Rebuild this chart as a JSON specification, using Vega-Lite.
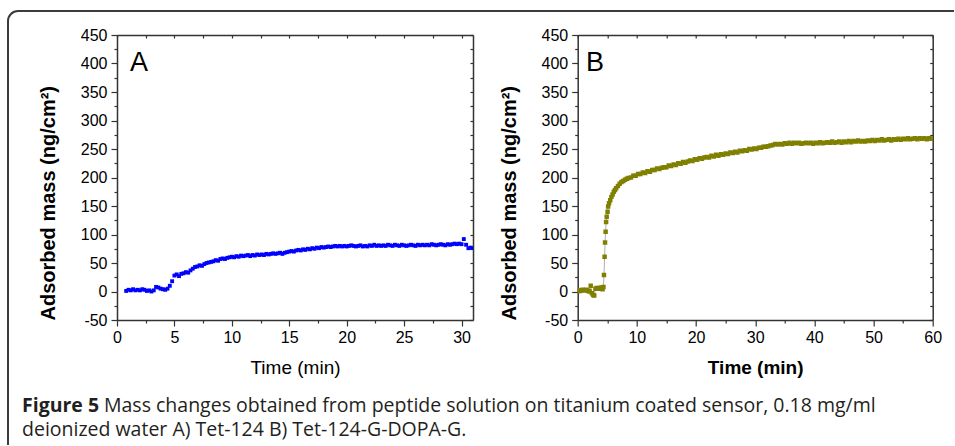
{
  "$schema": "https://vega.github.io/schema/vega-lite/v6.json",
  "background": "white",
  "padding": {"left": 7, "top": 10, "right": 0, "bottom": 0},
  "bounds": "flush",
  "spacing": 0,
  "datasets": {
    "a": [
      {"t":0.8,"m":1},{"t":1.0,"m":3},{"t":1.2,"m":2},{"t":1.4,"m":4},{"t":1.6,"m":2},{"t":1.8,"m":3},{"t":2.0,"m":2},{"t":2.2,"m":4},{"t":2.4,"m":3},{"t":2.6,"m":1},{"t":2.8,"m":2},{"t":3.0,"m":0},{"t":3.2,"m":2},{"t":3.4,"m":8},{"t":3.6,"m":7},{"t":3.8,"m":5},{"t":4.0,"m":4},{"t":4.2,"m":3},{"t":4.4,"m":5},{"t":4.6,"m":10},{"t":4.8,"m":18},
      {"t":5.0,"m":28},{"t":5.2,"m":30},{"t":5.4,"m":27},{"t":5.6,"m":31},{"t":5.8,"m":32},{"t":6.0,"m":34},{"t":6.2,"m":33},{"t":6.4,"m":37},{"t":6.6,"m":40},{"t":6.8,"m":43},{"t":7.0,"m":44},{"t":7.2,"m":46},{"t":7.4,"m":45},{"t":7.6,"m":48},{"t":7.8,"m":50},{"t":8.0,"m":51},{"t":8.2,"m":52},{"t":8.4,"m":53},{"t":8.6,"m":55},{"t":8.8,"m":54},{"t":9.0,"m":57},{"t":9.2,"m":58},{"t":9.4,"m":57},{"t":9.6,"m":59},{"t":9.8,"m":60},
      {"t":10.0,"m":61},{"t":10.2,"m":60},{"t":10.4,"m":62},{"t":10.6,"m":61},{"t":10.8,"m":63},{"t":11.0,"m":62},{"t":11.2,"m":63},{"t":11.4,"m":64},{"t":11.6,"m":62},{"t":11.8,"m":64},{"t":12.0,"m":63},{"t":12.2,"m":65},{"t":12.4,"m":64},{"t":12.6,"m":65},{"t":12.8,"m":64},{"t":13.0,"m":66},{"t":13.2,"m":65},{"t":13.4,"m":66},{"t":13.6,"m":67},{"t":13.8,"m":66},{"t":14.0,"m":67},{"t":14.2,"m":68},{"t":14.4,"m":66},{"t":14.6,"m":68},{"t":14.8,"m":69},
      {"t":15.0,"m":70},{"t":15.2,"m":71},{"t":15.4,"m":70},{"t":15.6,"m":72},{"t":15.8,"m":73},{"t":16.0,"m":72},{"t":16.2,"m":74},{"t":16.4,"m":73},{"t":16.6,"m":75},{"t":16.8,"m":74},{"t":17.0,"m":76},{"t":17.2,"m":75},{"t":17.4,"m":77},{"t":17.6,"m":76},{"t":17.8,"m":78},{"t":18.0,"m":77},{"t":18.2,"m":78},{"t":18.4,"m":79},{"t":18.6,"m":78},{"t":18.8,"m":79},{"t":19.0,"m":80},{"t":19.2,"m":79},{"t":19.4,"m":80},{"t":19.6,"m":79},{"t":19.8,"m":80},
      {"t":20.0,"m":79},{"t":20.2,"m":80},{"t":20.4,"m":81},{"t":20.6,"m":80},{"t":20.8,"m":79},{"t":21.0,"m":80},{"t":21.2,"m":81},{"t":21.4,"m":79},{"t":21.6,"m":80},{"t":21.8,"m":79},{"t":22.0,"m":81},{"t":22.2,"m":80},{"t":22.4,"m":82},{"t":22.6,"m":80},{"t":22.8,"m":81},{"t":23.0,"m":80},{"t":23.2,"m":81},{"t":23.4,"m":80},{"t":23.6,"m":82},{"t":23.8,"m":81},{"t":24.0,"m":80},{"t":24.2,"m":82},{"t":24.4,"m":81},{"t":24.6,"m":80},{"t":24.8,"m":82},
      {"t":25.0,"m":81},{"t":25.2,"m":80},{"t":25.4,"m":81},{"t":25.6,"m":82},{"t":25.8,"m":81},{"t":26.0,"m":80},{"t":26.2,"m":82},{"t":26.4,"m":81},{"t":26.6,"m":82},{"t":26.8,"m":81},{"t":27.0,"m":82},{"t":27.2,"m":81},{"t":27.4,"m":83},{"t":27.6,"m":82},{"t":27.8,"m":81},{"t":28.0,"m":82},{"t":28.2,"m":83},{"t":28.4,"m":82},{"t":28.6,"m":81},{"t":28.8,"m":83},{"t":29.0,"m":82},{"t":29.2,"m":83},{"t":29.4,"m":84},{"t":29.6,"m":83},{"t":29.8,"m":84},
      {"t":30.0,"m":83},{"t":30.2,"m":92},{"t":30.4,"m":82},{"t":30.6,"m":76},{"t":30.8,"m":77},{"t":31.0,"m":76}
    ],
    "b": [
      {"t":0,"m":1},{"t":0.2,"m":2},{"t":0.4,"m":1},{"t":0.6,"m":2},{"t":0.8,"m":3},{"t":1.0,"m":2},{"t":1.2,"m":2},{"t":1.4,"m":3},{"t":1.6,"m":2},{"t":1.8,"m":1},{"t":2.0,"m":0},{"t":2.2,"m":10},{"t":2.4,"m":-3},{"t":2.6,"m":-6},{"t":2.8,"m":-7},{"t":3.0,"m":5},{"t":3.2,"m":6},{"t":3.4,"m":5},{"t":3.6,"m":6},{"t":3.8,"m":5},{"t":4.0,"m":7},{"t":4.2,"m":4},{"t":4.35,"m":8},
      {"t":4.44,"m":29},{"t":4.55,"m":61},{"t":4.62,"m":86},{"t":4.72,"m":105},{"t":4.8,"m":122},{"t":4.9,"m":131},{"t":5.05,"m":140},{"t":5.15,"m":149},{"t":5.3,"m":155},{"t":5.5,"m":160},{"t":5.7,"m":166},{"t":5.9,"m":170},{"t":6.1,"m":175},{"t":6.3,"m":178},{"t":6.5,"m":181},{"t":6.8,"m":185},{"t":7.1,"m":189},{"t":7.4,"m":192},{"t":7.7,"m":194},{"t":8.0,"m":196},{"t":8.3,"m":198},
      {"t":8.6,"m":199},{"t":9.0,"m":200},{"t":9.4,"m":203},{"t":9.8,"m":203},{"t":10.2,"m":206},{"t":10.6,"m":206},{"t":11.0,"m":209},{"t":11.4,"m":208},{"t":11.8,"m":211},{"t":12.2,"m":210},{"t":12.6,"m":213},{"t":13.0,"m":213},{"t":13.4,"m":216},{"t":13.8,"m":215},{"t":14.2,"m":217},{"t":14.6,"m":218},{"t":15.0,"m":218},{"t":15.4,"m":221},{"t":15.8,"m":220},{"t":16.2,"m":223},{"t":16.6,"m":222},{"t":17.0,"m":225},{"t":17.4,"m":224},{"t":17.8,"m":227},{"t":18.2,"m":226},{"t":18.6,"m":228},{"t":19.0,"m":230},{"t":19.4,"m":229},{"t":19.8,"m":232},
      {"t":20.2,"m":231},{"t":20.6,"m":234},{"t":21.0,"m":233},{"t":21.4,"m":235},{"t":21.8,"m":236},{"t":22.2,"m":235},{"t":22.6,"m":238},{"t":23.0,"m":237},{"t":23.4,"m":240},{"t":23.8,"m":238},{"t":24.2,"m":241},{"t":24.6,"m":240},{"t":25.0,"m":242},{"t":25.4,"m":241},{"t":25.8,"m":244},{"t":26.2,"m":243},{"t":26.6,"m":245},{"t":27.0,"m":244},{"t":27.4,"m":247},{"t":27.8,"m":246},{"t":28.2,"m":248},{"t":28.6,"m":247},{"t":29.0,"m":250},{"t":29.4,"m":249},{"t":29.8,"m":251},
      {"t":30.2,"m":250},{"t":30.6,"m":252},{"t":31.0,"m":252},{"t":31.4,"m":254},{"t":31.8,"m":254},{"t":32.2,"m":255},{"t":32.6,"m":256},{"t":33.0,"m":257},{"t":33.4,"m":259},{"t":33.8,"m":258},{"t":34.2,"m":259},{"t":34.6,"m":258},{"t":35.0,"m":260},{"t":35.4,"m":259},{"t":35.8,"m":261},{"t":36.2,"m":259},{"t":36.6,"m":261},{"t":37.0,"m":260},{"t":37.4,"m":261},{"t":37.8,"m":259},{"t":38.2,"m":260},{"t":38.6,"m":261},{"t":39.0,"m":260},{"t":39.4,"m":261},{"t":39.8,"m":259},
      {"t":40.2,"m":261},{"t":40.6,"m":260},{"t":41.0,"m":262},{"t":41.4,"m":260},{"t":41.8,"m":261},{"t":42.2,"m":262},{"t":42.6,"m":261},{"t":43.0,"m":263},{"t":43.4,"m":261},{"t":43.8,"m":262},{"t":44.2,"m":263},{"t":44.6,"m":261},{"t":45.0,"m":263},{"t":45.4,"m":262},{"t":45.8,"m":264},{"t":46.2,"m":262},{"t":46.6,"m":264},{"t":47.0,"m":263},{"t":47.4,"m":265},{"t":47.8,"m":263},{"t":48.2,"m":264},{"t":48.6,"m":263},{"t":49.0,"m":265},{"t":49.4,"m":264},{"t":49.8,"m":266},
      {"t":50.2,"m":264},{"t":50.6,"m":266},{"t":51.0,"m":265},{"t":51.4,"m":267},{"t":51.8,"m":265},{"t":52.2,"m":266},{"t":52.6,"m":267},{"t":53.0,"m":265},{"t":53.4,"m":267},{"t":53.8,"m":266},{"t":54.2,"m":268},{"t":54.6,"m":266},{"t":55.0,"m":268},{"t":55.4,"m":267},{"t":55.8,"m":269},{"t":56.2,"m":267},{"t":56.6,"m":268},{"t":57.0,"m":269},{"t":57.4,"m":267},{"t":57.8,"m":269},{"t":58.2,"m":268},{"t":58.6,"m":269},{"t":59.0,"m":267},{"t":59.4,"m":269},{"t":59.8,"m":268},{"t":60.0,"m":268}
    ]
  },
  "vconcat": [
    {
      "bounds": "flush",
      "spacing": 104.7,
      "hconcat": [
        {
          "width": 356,
          "height": 285,
          "resolve": {"axis": {"x": "independent", "y": "independent"}},
          "layer": [
            {
              "data": {"name": "a"},
              "mark": {"type": "point", "shape": "square", "filled": true, "size": 15, "color": "#0000ff", "opacity": 1, "clip": true},
              "encoding": {
                "x": {"field": "t", "type": "quantitative", "scale": {"domain": [0, 31], "nice": false, "zero": false},
                  "axis": {"orient": "bottom", "values": [0,2.5,5,7.5,10,12.5,15,17.5,20,22.5,25,27.5,30],
                    "labelExpr": "datum.value % 5 === 0 ? '' + datum.value : ''",
                    "tickSize": {"condition": {"test": "datum.value % 5 === 0", "value": 6}, "value": 3},
                    "labelPadding": 3, "title": "Time (min)", "titleFontWeight": "normal", "titlePadding": 13}},
                "y": {"field": "m", "type": "quantitative", "scale": {"domain": [-50, 450], "nice": false, "zero": false},
                  "axis": {"orient": "left", "values": [-50,-25,0,25,50,75,100,125,150,175,200,225,250,275,300,325,350,375,400,425,450],
                    "labelExpr": "datum.value % 50 === 0 ? '' + datum.value : ''",
                    "tickSize": {"condition": {"test": "datum.value % 50 === 0", "value": 6}, "value": 3},
                    "labelPadding": 4, "title": "Adsorbed mass (ng/cm²)", "titleFontSize": 20, "titleAnchor": "start", "titlePadding": 22}}
              }
            },
            {
              "data": {"values": [{"t": 1.13, "m": 387, "lab": "A"}]},
              "mark": {"type": "text", "align": "left", "baseline": "alphabetic", "font": "Liberation Sans", "fontSize": 27, "color": "#000"},
              "encoding": {
                "x": {"field": "t", "type": "quantitative", "scale": {"domain": [0, 31], "nice": false, "zero": false},
                  "axis": {"orient": "top", "labels": false, "title": null, "tickSize": -3, "values": [0,2.5,5,7.5,10,12.5,15,17.5,20,22.5,25,27.5,30]}},
                "y": {"field": "m", "type": "quantitative", "scale": {"domain": [-50, 450], "nice": false, "zero": false},
                  "axis": {"orient": "right", "labels": false, "title": null, "tickSize": -3, "values": [-50,-25,0,25,50,75,100,125,150,175,200,225,250,275,300,325,350,375,400,425,450]}},
                "text": {"field": "lab"}
              }
            },
            {
              "data": {"values": [{"f": 1}]},
              "mark": {"type": "rect", "filled": false, "stroke": "#3c3c3c", "strokeWidth": 2, "cornerRadiusTopLeft": 10, "strokeDash": [936, 1380, 460], "clip": false},
              "encoding": {"x": {"value": -109}, "y": {"value": -24}, "x2": {"value": 837}, "y2": {"value": 410}}
            }
          ]
        },
        {
          "width": 355,
          "height": 285,
          "resolve": {"axis": {"x": "independent", "y": "independent"}},
          "layer": [
            {
              "data": {"name": "b"},
              "mark": {"type": "line", "color": "#8a8a8a", "strokeWidth": 0.7, "clip": true},
              "encoding": {
                "x": {"field": "t", "type": "quantitative", "scale": {"domain": [0, 60], "nice": false, "zero": false},
                  "axis": {"orient": "bottom", "values": [0,5,10,15,20,25,30,35,40,45,50,55,60],
                    "labelExpr": "datum.value % 10 === 0 ? '' + datum.value : ''",
                    "tickSize": {"condition": {"test": "datum.value % 10 === 0", "value": 6}, "value": 3},
                    "labelPadding": 3, "title": "Time (min)", "titlePadding": 13}},
                "y": {"field": "m", "type": "quantitative", "scale": {"domain": [-50, 450], "nice": false, "zero": false},
                  "axis": {"orient": "left", "values": [-50,-25,0,25,50,75,100,125,150,175,200,225,250,275,300,325,350,375,400,425,450],
                    "labelExpr": "datum.value % 50 === 0 ? '' + datum.value : ''",
                    "tickSize": {"condition": {"test": "datum.value % 50 === 0", "value": 6}, "value": 3},
                    "labelPadding": 4, "title": "Adsorbed mass (ng/cm²)", "titleFontSize": 20, "titleAnchor": "start", "titlePadding": 22}}
              }
            },
            {
              "data": {"name": "b"},
              "mark": {"type": "point", "shape": "square", "filled": true, "size": 20, "color": "#808000", "opacity": 1, "clip": true},
              "encoding": {
                "x": {"field": "t", "type": "quantitative", "scale": {"domain": [0, 60], "nice": false, "zero": false}, "axis": null},
                "y": {"field": "m", "type": "quantitative", "scale": {"domain": [-50, 450], "nice": false, "zero": false}, "axis": null}
              }
            },
            {
              "data": {"values": [{"t": 1.4, "m": 387, "lab": "B"}]},
              "mark": {"type": "text", "align": "left", "baseline": "alphabetic", "font": "Liberation Sans", "fontSize": 27, "color": "#000"},
              "encoding": {
                "x": {"field": "t", "type": "quantitative", "scale": {"domain": [0, 60], "nice": false, "zero": false},
                  "axis": {"orient": "top", "labels": false, "title": null, "tickSize": -3, "values": [0,5,10,15,20,25,30,35,40,45,50,55,60]}},
                "y": {"field": "m", "type": "quantitative", "scale": {"domain": [-50, 450], "nice": false, "zero": false},
                  "axis": {"orient": "right", "labels": false, "title": null, "tickSize": -3, "values": [-50,-25,0,25,50,75,100,125,150,175,200,225,250,275,300,325,350,375,400,425,450]}},
                "text": {"field": "lab"}
              }
            }
          ]
        }
      ]
    },
    {
      "width": 830,
      "height": 10,
      "layer": [
        {
          "data": {"values": [{"s": "Figure 5"}]},
          "mark": {"type": "text", "align": "left", "baseline": "alphabetic", "font": "Open Sans", "fontSize": 19.5, "fontWeight": "bold", "color": "#231f20", "x": -95, "y": 377},
          "encoding": {"text": {"field": "s"}}
        },
        {
          "data": {"values": [{"s": "Mass changes obtained from peptide solution on titanium coated sensor, 0.18 mg/ml"}]},
          "mark": {"type": "text", "align": "left", "baseline": "alphabetic", "font": "Open Sans", "fontSize": 19.5, "color": "#231f20", "x": -13, "y": 377},
          "encoding": {"text": {"field": "s"}}
        },
        {
          "data": {"values": [{"s": "deionized water A) Tet-124 B) Tet-124-G-DOPA-G."}]},
          "mark": {"type": "text", "align": "left", "baseline": "alphabetic", "font": "Open Sans", "fontSize": 19.5, "color": "#231f20", "x": -95, "y": 401},
          "encoding": {"text": {"field": "s"}}
        }
      ]
    }
  ],
  "config": {
    "view": {"stroke": null},
    "axis": {
      "labelFont": "Liberation Sans", "labelFontSize": 16, "labelColor": "#000",
      "titleFont": "Liberation Sans", "titleFontSize": 19, "titleFontWeight": "bold", "titleColor": "#000",
      "domainColor": "#333", "domainWidth": 1.5, "tickColor": "#333", "tickWidth": 1.2,
      "grid": false, "labelFlush": false, "labelOverlap": false, "labelBound": false
    }
  }
}
